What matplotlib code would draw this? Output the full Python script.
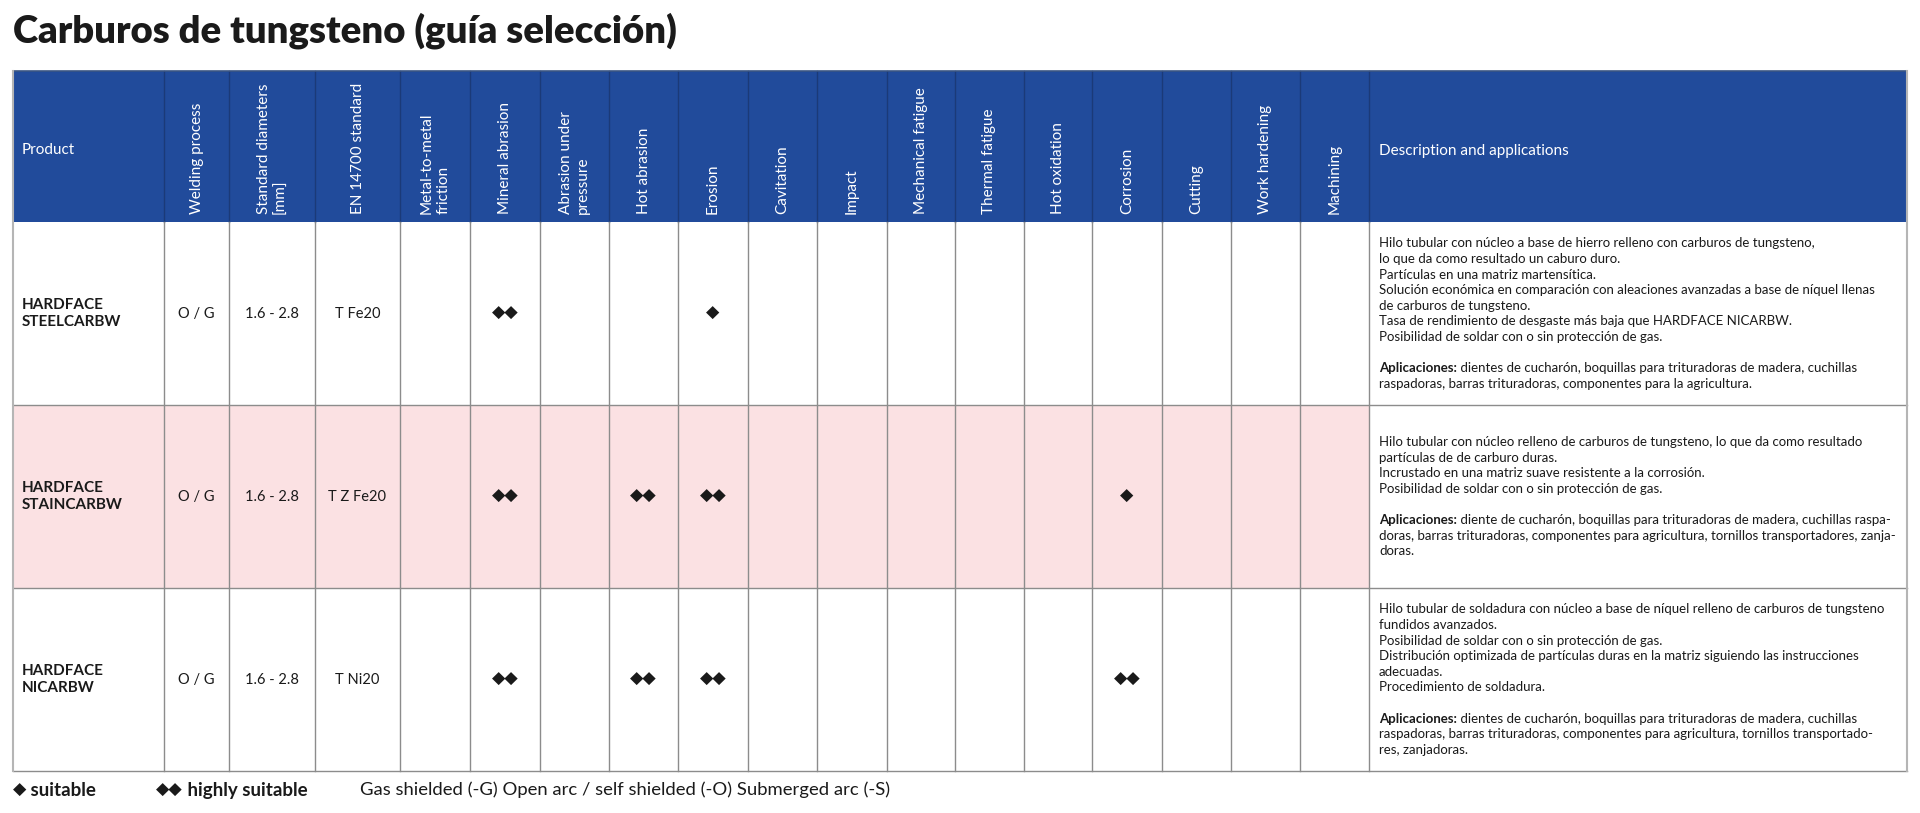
import matplotlib
matplotlib.use('Agg')
import matplotlib.pyplot as plt
from matplotlib.patches import Rectangle

# datos de la tabla
title = 'Carburos de tungsteno (guía selección)'
header_labels = ['Product', 'Welding process', 'Standard diameters\n[mm]', 'EN 14700 standard',
                 'Metal-to-metal\nfriction', 'Mineral abrasion', 'Abrasion under\npressure',
                 'Hot abrasion', 'Erosion', 'Cavitation', 'Impact', 'Mechanical fatigue',
                 'Thermal fatigue', 'Hot oxidation', 'Corrosion', 'Cutting', 'Work hardening',
                 'Machining', 'Description and applications']
products = ['HARDFACE\nSTEELCARBW', 'HARDFACE\nSTAINCARBW', 'HARDFACE\nNICARBW']
welding = ['O / G', 'O / G', 'O / G']
diameters = ['1.6 - 2.8', '1.6 - 2.8', '1.6 - 2.8']
en_standard = ['T Fe20', 'T Z Fe20', 'T Ni20']
# 0 = nada, 1 = suitable, 2 = highly suitable (14 propiedades)
ratings_steel = [0, 2, 0, 0, 1, 0, 0, 0, 0, 0, 0, 0, 0, 0]
ratings_stain = [0, 2, 0, 2, 2, 0, 0, 0, 0, 0, 1, 0, 0, 0]
ratings_ni = [0, 2, 0, 2, 2, 0, 0, 0, 0, 0, 2, 0, 0, 0]
desc_steel = ['Hilo tubular con núcleo a base de hierro relleno con carburos de tungsteno,',
              'lo que da como resultado un caburo duro.',
              'Partículas en una matriz martensítica.',
              'Solución económica en comparación con aleaciones avanzadas a base de níquel llenas',
              'de carburos de tungsteno.',
              'Tasa de rendimiento de desgaste más baja que HARDFACE NICARBW.',
              'Posibilidad de soldar con o sin protección de gas.',
              '',
              'Aplicaciones:| dientes de cucharón, boquillas para trituradoras de madera, cuchillas',
              'raspadoras, barras trituradoras, componentes para la agricultura.']
desc_stain = ['Hilo tubular con núcleo relleno de carburos de tungsteno, lo que da como resultado',
              'partículas de de carburo duras.',
              'Incrustado en una matriz suave resistente a la corrosión.',
              'Posibilidad de soldar con o sin protección de gas.',
              '',
              'Aplicaciones:| diente de cucharón, boquillas para trituradoras de madera, cuchillas raspa-',
              'doras, barras trituradoras, componentes para agricultura, tornillos transportadores, zanja-',
              'doras.']
desc_ni = ['Hilo tubular de soldadura con núcleo a base de níquel relleno de carburos de tungsteno',
           'fundidos avanzados.',
           'Posibilidad de soldar con o sin protección de gas.',
           'Distribución optimizada de partículas duras en la matriz siguiendo las instrucciones',
           'adecuadas.',
           'Procedimiento de soldadura.',
           '',
           'Aplicaciones:| dientes de cucharón, boquillas para trituradoras de madera, cuchillas',
           'raspadoras, barras trituradoras, componentes para agricultura, tornillos transportado-',
           'res, zanjadoras.']
legend_items = ['suitable', 'highly suitable']
legend_note = 'Gas shielded (-G) Open arc / self shielded (-O) Submerged arc (-S)'

ratings = [ratings_steel, ratings_stain, ratings_ni]
descs = [desc_steel, desc_stain, desc_ni]

# maquetación (pixeles)
col_x = [13, 164, 229, 315, 400, 470, 540, 609, 678, 748, 817, 887, 955, 1024,
         1092, 1162, 1231, 1300, 1369, 1907]
head_top, head_bot = 71, 222
row_y = [222, 405, 588, 771]
row_colors = ['white', '#fbe1e3', 'white']
blue = '#214b9b'
fam = ['Lato', 'DejaVu Sans']
dark = '#1a1a1a'

fig = plt.figure(figsize=(19.2, 8.13), dpi=100)
ax = fig.add_axes([0, 0, 1, 1])
ax.set_xlim(0, 1920)
ax.set_ylim(813, 0)
ax.axis('off')

ax.text(13, 31, title, fontsize=27.5, fontweight='heavy', family=fam, color=dark,
        ha='left', va='center')

# cabecera
ax.add_patch(Rectangle((col_x[0], head_top), col_x[-1] - col_x[0], head_bot - head_top,
                       facecolor=blue, edgecolor='none', zorder=1))
for x in col_x[1:-1]:
    ax.plot([x, x], [head_top, head_bot], color='#1b3a78', lw=1, zorder=2)
ax.plot([col_x[0], col_x[-1]], [head_top, head_top], color='#3a5583', lw=1.2, zorder=2)

ax.text(col_x[0] + 9, (head_top + head_bot) / 2 + 4, header_labels[0], color='white',
        fontsize=11, family=fam, ha='left', va='center', zorder=3)
ax.text(col_x[-2] + 10, (head_top + head_bot) / 2 + 4, header_labels[-1], color='white',
        fontsize=11, family=fam, ha='left', va='center', zorder=3)
for i, lab in enumerate(header_labels[1:-1], start=1):
    cx = (col_x[i] + col_x[i + 1]) / 2
    ax.text(cx, head_bot - 8, lab, color='white', fontsize=11, family=fam,
            rotation=90, ha='center', va='bottom', multialignment='left',
            linespacing=1.2, zorder=3)

# filas
for r in range(3):
    y0, y1 = row_y[r], row_y[r + 1]
    yc = (y0 + y1) / 2
    ax.add_patch(Rectangle((col_x[0], y0), col_x[-2] - col_x[0], y1 - y0,
                           facecolor=row_colors[r], edgecolor='none', zorder=0))
    ax.text(col_x[0] + 9, yc, products[r], fontsize=11, fontweight='bold', family=fam,
            color=dark, ha='left', va='center', linespacing=1.3)
    for j, val in enumerate([welding[r], diameters[r], en_standard[r]], start=1):
        ax.text((col_x[j] + col_x[j + 1]) / 2, yc, val, fontsize=10.5, family=fam,
                color=dark, ha='center', va='center')
    for k, v in enumerate(ratings[r]):
        if v:
            c = 4 + k
            ax.text((col_x[c] + col_x[c + 1]) / 2, yc - 1, '◆' * v, fontsize=12.5,
                    family=['DejaVu Sans'], color=dark, ha='center', va='center')
    lines = descs[r]
    lh = 15.6
    ytop = yc - (len(lines) - 1) * lh / 2
    for n, line in enumerate(lines):
        yy = ytop + n * lh
        if '|' in line:
            b, rest = line.split('|')
            t = ax.text(col_x[-2] + 10, yy, b, fontsize=9.5, fontweight='bold', family=fam,
                        color=dark, ha='left', va='center')
            ax.annotate(rest, xy=(1, 0.5), xycoords=t, fontsize=9.5, family=fam,
                        color=dark, ha='left', va='center')
        elif line:
            ax.text(col_x[-2] + 10, yy, line, fontsize=9.5, family=fam, color=dark,
                    ha='left', va='center')

# líneas de la cuadrícula
grid = '#8c8c8c'
for x in col_x[1:-1]:
    ax.plot([x, x], [head_bot, row_y[-1]], color=grid, lw=1, zorder=4)
for y in row_y[1:]:
    ax.plot([col_x[0], col_x[-1]], [y, y], color=grid, lw=1, zorder=4)
ax.plot([col_x[0], col_x[0]], [head_top, row_y[-1]], color='#b5b5b5', lw=1.5, zorder=4)
ax.plot([col_x[-1], col_x[-1]], [head_top, row_y[-1]], color='#b5b5b5', lw=1.5, zorder=4)

# leyenda
ly = 790
t1 = ax.text(13, ly, '◆', fontsize=12.5, family=['DejaVu Sans'], color=dark, ha='left', va='center')
ax.annotate(' ' + legend_items[0], xy=(1, 0.5), xycoords=t1, fontsize=13.5, fontweight='bold',
            family=fam, color=dark, ha='left', va='center')
t2 = ax.text(156, ly, '◆◆', fontsize=12.5, family=['DejaVu Sans'], color=dark, ha='left', va='center')
ax.annotate(' ' + legend_items[1], xy=(1, 0.5), xycoords=t2, fontsize=13.5, fontweight='bold',
            family=fam, color=dark, ha='left', va='center')
ax.text(360, ly, legend_note, fontsize=13.3, family=fam, color=dark, ha='left', va='center')

fig.savefig('out.png', dpi=100, facecolor='white')
